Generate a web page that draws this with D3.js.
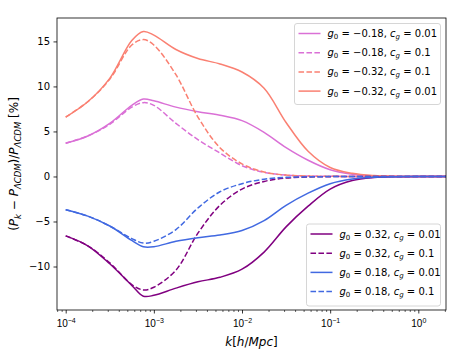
<!DOCTYPE html>
<html>
<head>
<meta charset="utf-8">
<script src="https://cdn.jsdelivr.net/npm/d3@7"></script>
<style>
  body { margin: 0; background: #fff; }
  svg { font-family: "DejaVu Sans", sans-serif; }
</style>
</head>
<body>
<div id="chart"></div>
<script>
// k values (h/Mpc), sampled on a log grid
const kValues = [1e-4, 1.78e-4, 3.16e-4, 5.62e-4, 7.6e-4, 1e-3, 1.78e-3, 3.16e-3, 5.62e-3,
    1e-2, 1.78e-2, 3.16e-2, 5.62e-2, 0.1, 0.178, 0.316, 0.562, 1, 2.06];

// relative difference in percent
const negSmallA = [3.7, 4.5, 5.9, 7.9, 8.6, 8.4, 7.7, 7.2, 6.8, 6.2, 4.9, 3.2, 1.8, 0.75, 0.25, 0.07, 0.02, 0, 0];
const negSmallB = [3.7, 4.5, 5.8, 7.7, 8.2, 7.9, 5.9, 4.1, 2.6, 1.2, 0.45, 0.15, 0.05, 0.02, 0, 0, 0, 0, 0];
const negBigB   = [6.6, 8.3, 10.8, 14.6, 15.2, 14.6, 11.3, 6.6, 3.2, 1.4, 0.5, 0.15, 0.05, 0.02, 0, 0, 0, 0, 0];
const negBigA   = [6.6, 8.3, 10.9, 15.1, 16.1, 15.7, 14.1, 13.1, 12.5, 11.6, 9.8, 6.0, 2.8, 1.0, 0.35, 0.1, 0.02, 0, 0];
const posBigA   = [-6.6, -7.7, -9.7, -12.1, -13.3, -13.2, -12.4, -11.7, -11.2, -10.3, -8.4, -5.6, -3.3, -1.4, -0.45, -0.12, -0.03, 0, 0];
const posBigB   = [-6.6, -7.7, -9.6, -12.0, -12.6, -12.3, -10.4, -6.3, -3.2, -1.4, -0.55, -0.18, -0.06, -0.02, 0, 0, 0, 0, 0];
const posSmallA = [-3.7, -4.4, -5.5, -7.1, -7.8, -7.8, -7.2, -6.8, -6.5, -6.0, -4.9, -3.2, -1.85, -0.8, -0.28, -0.08, -0.02, 0, 0];
const posSmallB = [-3.7, -4.4, -5.5, -6.9, -7.4, -7.2, -5.9, -3.5, -1.7, -0.8, -0.3, -0.1, -0.04, -0.01, 0, 0, 0, 0, 0];

const upperSeries = [
    {g: "\u22120.18", c: "0.01", color: "#da70d6", dash: false, values: negSmallA},
    {g: "\u22120.18", c: "0.1", color: "#da70d6", dash: true, values: negSmallB},
    {g: "\u22120.32", c: "0.1", color: "#fa8072", dash: true, values: negBigB},
    {g: "\u22120.32", c: "0.01", color: "#fa8072", dash: false, values: negBigA}
];
const lowerSeries = [
    {g: "0.32", c: "0.01", color: "#800080", dash: false, values: posBigA},
    {g: "0.32", c: "0.1", color: "#800080", dash: true, values: posBigB},
    {g: "0.18", c: "0.01", color: "#4169e1", dash: false, values: posSmallA},
    {g: "0.18", c: "0.1", color: "#4169e1", dash: true, values: posSmallB}
];

const yTicks = [-10, -5, 0, 5, 10, 15];
const xTicks = [1e-4, 1e-3, 1e-2, 1e-1, 1];
const xTickExp = ["\u22124", "\u22123", "\u22122", "\u22121", "0"];

const width = 468, height = 360;
const mLeft = 57, mRight = 446, mTop = 18, mBottom = 310;

const svg = d3.select("#chart").append("svg")
    .attr("width", width)
    .attr("height", height);

const x = d3.scaleLog().domain([Math.pow(10, -4.0986), Math.pow(10, 0.314)]).range([mLeft, mRight]);
const y = d3.scaleLinear().domain([-14.83, 17.6]).range([mBottom, mTop]);

svg.append("clipPath").attr("id", "clip")
    .append("rect")
    .attr("x", mLeft).attr("y", mTop)
    .attr("width", mRight - mLeft).attr("height", mBottom - mTop);

const line = d3.line()
    .x((d, i) => x(kValues[i]))
    .y(d => y(d))
    .curve(d3.curveCatmullRom.alpha(0.5));

const plot = svg.append("g").attr("clip-path", "url(#clip)");
upperSeries.concat(lowerSeries).forEach(s => {
    plot.append("path")
        .attr("d", line(s.values))
        .attr("fill", "none")
        .attr("stroke", s.color)
        .attr("stroke-width", 1.5)
        .attr("stroke-dasharray", s.dash ? "5.55,2.4" : null);
});

// axes
const minorTicks = [];
for (let e = -5; e <= 0; e++) {
    for (let m = 2; m <= 9; m++) {
        const v = m * Math.pow(10, e);
        if (v >= x.domain()[0] && v <= x.domain()[1]) minorTicks.push(v);
    }
}

svg.append("g")
    .attr("transform", `translate(0,${mBottom})`)
    .call(d3.axisBottom(x).tickValues(minorTicks).tickSize(2).tickFormat(""))
    .call(g => g.select(".domain").remove())
    .selectAll("line").attr("stroke-width", 0.6);

const xAxis = svg.append("g")
    .attr("transform", `translate(0,${mBottom})`)
    .call(d3.axisBottom(x).tickValues(xTicks).tickSize(3.5).tickFormat(""));
xAxis.select(".domain").remove();
xAxis.selectAll("line").attr("stroke-width", 0.8);
xAxis.selectAll(".tick").each(function(d, i) {
    const t = d3.select(this).append("text")
        .attr("y", 17)
        .attr("fill", "#000")
        .attr("font-size", 10)
        .attr("text-anchor", "middle");
    t.append("tspan").text("10");
    t.append("tspan").attr("dy", -4).attr("font-size", 7).text(xTickExp[i]);
});

const yAxis = svg.append("g")
    .attr("transform", `translate(${mLeft},0)`)
    .call(d3.axisLeft(y).tickValues(yTicks).tickSize(3.5).tickPadding(3.5)
        .tickFormat(d => d < 0 ? "\u2212" + Math.abs(d) : d));
yAxis.select(".domain").remove();
yAxis.selectAll("line").attr("stroke-width", 0.8);
yAxis.selectAll("text").attr("font-size", 10).attr("font-family", "DejaVu Sans");

svg.append("rect")
    .attr("x", mLeft).attr("y", mTop)
    .attr("width", mRight - mLeft).attr("height", mBottom - mTop)
    .attr("fill", "none")
    .attr("stroke", "#000")
    .attr("stroke-width", 0.8);

// axis labels
const xl = svg.append("text")
    .attr("x", (mLeft + mRight) / 2)
    .attr("y", 346)
    .attr("text-anchor", "middle")
    .attr("font-size", 12);
xl.append("tspan").attr("font-style", "italic").text("k");
xl.append("tspan").text("[");
xl.append("tspan").attr("font-style", "italic").text("h");
xl.append("tspan").text("/");
xl.append("tspan").attr("font-style", "italic").text("Mpc");
xl.append("tspan").text("]");

const yl = svg.append("text")
    .attr("transform", `translate(18,${(mTop + mBottom) / 2}) rotate(-90)`)
    .attr("text-anchor", "middle")
    .attr("font-size", 12);
yl.append("tspan").text("(");
yl.append("tspan").attr("font-style", "italic").text("P");
yl.append("tspan").attr("font-style", "italic").attr("font-size", 8.5).attr("dy", 3).text("k");
yl.append("tspan").attr("dy", -3).text(" \u2212 ");
yl.append("tspan").attr("font-style", "italic").text("P");
yl.append("tspan").attr("font-style", "italic").attr("font-size", 8.5).attr("dy", 3).text("\u039BCDM");
yl.append("tspan").attr("dy", -3).text(")/");
yl.append("tspan").attr("font-style", "italic").text("P");
yl.append("tspan").attr("font-style", "italic").attr("font-size", 8.5).attr("dy", 3).text("\u039BCDM");
yl.append("tspan").attr("dy", -3).text(" [%]");

// legends
function drawLegend(series, bx, by, bw, bh) {
    const g = svg.append("g");
    g.append("rect")
        .attr("x", bx).attr("y", by)
        .attr("width", bw).attr("height", bh)
        .attr("rx", 2.5)
        .attr("fill", "#fff").attr("fill-opacity", 0.8)
        .attr("stroke", "#cccccc").attr("stroke-width", 0.8);
    series.forEach((s, i) => {
        const cy = by + 10 + i * 19.2;
        g.append("line")
            .attr("x1", bx + 4).attr("x2", bx + 26)
            .attr("y1", cy).attr("y2", cy)
            .attr("stroke", s.color).attr("stroke-width", 1.5)
            .attr("stroke-dasharray", s.dash ? "5.55,2.4" : null);
        const t = g.append("text")
            .attr("x", bx + 33).attr("y", cy + 3.5)
            .attr("font-size", 10);
        t.append("tspan").attr("font-style", "italic").text("g");
        t.append("tspan").attr("font-size", 7).attr("dy", 2).text("0");
        t.append("tspan").attr("dy", -2).text(" = " + s.g + ", ");
        t.append("tspan").attr("font-style", "italic").text("c");
        t.append("tspan").attr("font-style", "italic").attr("font-size", 7).attr("dy", 2).text("g");
        t.append("tspan").attr("dy", -2).text(" = " + s.c);
    });
}
drawLegend(upperSeries, 294.5, 23.5, 146, 81);
drawLegend(lowerSeries, 306.5, 224, 134, 82);
</script>
</body>
</html>
